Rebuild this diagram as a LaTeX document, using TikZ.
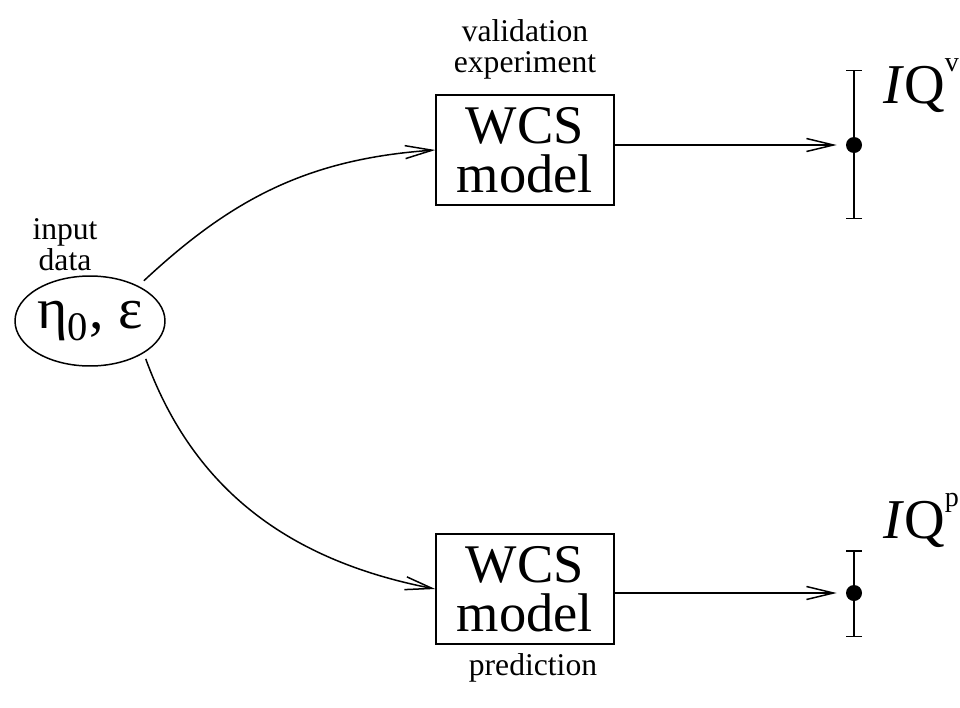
\documentclass[tikz,border=0pt]{standalone}
\usepackage{fontspec}
\setmainfont{Liberation Serif}
\usetikzlibrary{arrows.meta,positioning,shapes.geometric}
\tikzset{
	model/.style={draw, line width=0.85pt, minimum width=3.56cm, minimum height=2.2cm, inner sep=0pt, align=center, font=\fontsize{31}{28}\selectfont},
	caption/.style={inner sep=0pt, align=center, font=\fontsize{18}{17.5}\selectfont},
	qoi/.style={inner sep=0pt, anchor=base west, font=\fontsize{32}{32}\selectfont},
	bead/.style={circle, fill=black, inner sep=0pt, minimum size=0.32cm},
	flow/.style={line width=0.85pt, -{Straight Barb[length=0.54cm,width=0.26cm,line width=0.85pt]}},
	spread/.style={line width=0.85pt, {Bar[width=0.32cm]}-{Bar[width=0.32cm]}},
}
\def\sup#1{\raisebox{18pt}{\fontsize{16}{16}\selectfont #1}}

\begin{document}
\begin{tikzpicture}[x=0.02cm, y=-0.02cm]
			%%%%% START %%%%%
			\useasboundingbox (0, 0) rectangle (960, 707);
			
			\node[ellipse, draw, line width=0.85pt, minimum width=3cm, minimum height=1.8cm, inner sep=0pt, font=\fontsize{33}{33}\selectfont] (ell) at (90, 321) {η\textsubscript{0}, ε};
			\node[caption, anchor=south, above=0.08cm of ell, xshift=-0.5cm] (input) {input\\data};
			
			\node[model] (vbox) at (525, 150) {WCS\\model};
			\node[caption, above=0.3cm of vbox] (vlab) {validation\\experiment};
			
			\node[model] (pbox) at (525, 589) {WCS\\model};
			\node[caption, below=0.16cm of pbox, xshift=0.16cm] (plab) {prediction};
			
			\node[bead] (vdot) at (854, 145) {};
			\coordinate (vtop) at (854, 70);
			\coordinate (vbot) at (854, 219);
			\draw[spread] (vtop) -- (vbot);
			\node[qoi] (vq) at (883, 103) {\textit{I}Q\sup{v}};
			
			\node[bead] (pdot) at (854, 593) {};
			\coordinate (ptop) at (854, 550);
			\coordinate (pbot) at (854, 637);
			\draw[spread] (ptop) -- (pbot);
			\node[qoi] (pq) at (883, 538) {\textit{I}Q\sup{p}};
			
			\draw[flow, shorten <=0.15cm] (ell.36) to[out=43, in=184] (vbox.west);
			\draw[flow, shorten <=0.12cm] (ell.-31) to[out=-70, in=169] (pbox.west);
			
			\draw[flow, shorten >=0.18cm] (vbox.east |- vdot) -- (vdot);
			\draw[flow, shorten >=0.18cm] (pbox.east |- pdot) -- (pdot);
			
			%%%%% END %%%%%
\end{tikzpicture}
\end{document}
